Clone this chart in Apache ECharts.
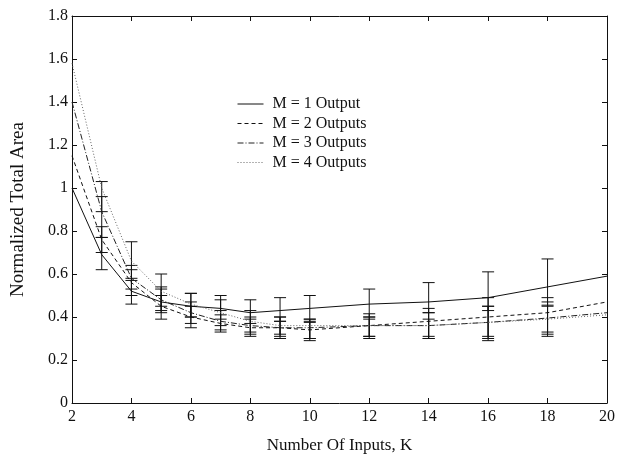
<!DOCTYPE html>
<html>
<head>
<meta charset="utf-8">
<script src="https://cdn.jsdelivr.net/npm/echarts@6/dist/echarts.min.js"></script>
<style>
  html, body { margin: 0; padding: 0; background: #fff; }
  #chart { width: 618px; height: 459px; }
</style>
</head>
<body>
<div id="chart"></div>
<script>
// number of inputs K
const kValues = [2, 3, 4, 5, 6, 7, 8, 9, 10, 12, 14, 16, 18, 20]
// normalized total area, one list per number of outputs
const m1 = [1.0, 0.69, 0.52, 0.47, 0.45, 0.44, 0.42, 0.43, 0.44, 0.46, 0.47, 0.49, 0.54, 0.59]
const m2 = [1.15, 0.76, 0.56, 0.45, 0.40, 0.37, 0.35, 0.35, 0.34, 0.36, 0.38, 0.40, 0.42, 0.47]
const m3 = [1.40, 0.89, 0.58, 0.48, 0.42, 0.38, 0.36, 0.35, 0.35, 0.36, 0.36, 0.375, 0.395, 0.42]
const m4 = [1.58, 1.0, 0.66, 0.52, 0.46, 0.42, 0.38, 0.36, 0.36, 0.36, 0.36, 0.375, 0.39, 0.41]

// error bars (K = 3 .. 18)
const errK = [3, 4, 5, 6, 7, 8, 9, 10, 12, 14, 16, 18]
const m1Low = [0.62, 0.46, 0.43, 0.40, 0.39, 0.37, 0.38, 0.38, 0.40, 0.42, 0.43, 0.45]
const m1High = [0.77, 0.58, 0.53, 0.51, 0.50, 0.48, 0.49, 0.50, 0.53, 0.56, 0.61, 0.67]
const m2Low = [0.70, 0.50, 0.39, 0.35, 0.33, 0.31, 0.30, 0.29, 0.30, 0.30, 0.31, 0.33]
const m2High = [0.82, 0.62, 0.50, 0.45, 0.41, 0.39, 0.40, 0.39, 0.415, 0.44, 0.49, 0.49]
const m3Low = [0.77, 0.53, 0.42, 0.37, 0.34, 0.32, 0.31, 0.30, 0.31, 0.31, 0.29, 0.31]
const m3High = [0.96, 0.64, 0.54, 0.47, 0.43, 0.40, 0.38, 0.375, 0.40, 0.42, 0.45, 0.47]
const m4Low = [0.89, 0.57, 0.45, 0.40, 0.36, 0.33, 0.32, 0.30, 0.31, 0.30, 0.30, 0.32]
const m4High = [1.03, 0.75, 0.60, 0.51, 0.48, 0.43, 0.40, 0.39, 0.39, 0.39, 0.45, 0.455]

const seriesNames = ['M = 1 Output', 'M = 2 Outputs', 'M = 3 Outputs', 'M = 4 Outputs']

const font = 'Liberation Serif'

function pairs (ys) {
  return kValues.map((k, i) => [k, ys[i]])
}

function errData (lows, highs) {
  return errK.map((k, i) => [k, lows[i], highs[i]])
}

// vertical bar with caps at both ends
function renderErr (params, api) {
  const x = api.value(0)
  const lo = api.coord([x, api.value(1)])
  const hi = api.coord([x, api.value(2)])
  const half = 6
  const style = { stroke: '#111', lineWidth: 1, fill: null }
  return {
    type: 'group',
    children: [
      { type: 'line', shape: { x1: lo[0], y1: lo[1], x2: hi[0], y2: hi[1] }, style: style },
      { type: 'line', shape: { x1: lo[0] - half, y1: lo[1], x2: lo[0] + half, y2: lo[1] }, style: style },
      { type: 'line', shape: { x1: hi[0] - half, y1: hi[1], x2: hi[0] + half, y2: hi[1] }, style: style }
    ]
  }
}

const lineStyles = [
  { color: '#111', width: 1, type: 'solid' },
  { color: '#111', width: 1, type: [4, 3] },
  { color: '#222', width: 1, type: [6, 2, 1, 2] },
  { color: '#666', width: 1, type: [1, 2] }
]
const lineData = [m1, m2, m3, m4]
const errLows = [m1Low, m2Low, m3Low, m4Low]
const errHighs = [m1High, m2High, m3High, m4High]

let series = []
lineData.forEach(function (d, i) {
  series.push({
    name: seriesNames[i],
    type: 'line',
    data: pairs(d),
    symbol: 'none',
    lineStyle: lineStyles[i],
    itemStyle: { color: lineStyles[i].color },
    z: 3
  })
})
errLows.forEach(function (lows, i) {
  series.push({
    type: 'custom',
    renderItem: renderErr,
    data: errData(lows, errHighs[i]),
    encode: { x: 0, y: [1, 2] },
    z: 2
  })
})

const axisLine = { show: true, onZero: false, lineStyle: { color: '#111', width: 1 } }
const axisTick = { show: true, inside: true, length: 5, lineStyle: { color: '#111' } }

let myChart = echarts.init(document.getElementById('chart'))
myChart.setOption({
  animation: false,
  backgroundColor: '#fff',
  grid: { left: 72, right: 10, top: 16, bottom: 55 },
  legend: {
    data: seriesNames,
    orient: 'vertical',
    left: 232,
    top: 91,
    itemWidth: 26,
    itemHeight: 14,
    itemGap: 3.5,
    itemStyle: { opacity: 0 },
    lineStyle: { width: 1 },
    textStyle: { color: '#111', fontFamily: font, fontSize: 16, padding: [0, 0, 0, 4] }
  },
  xAxis: [
    {
      type: 'value',
      min: 2,
      max: 20,
      interval: 2,
      name: 'Number Of Inputs, K',
      nameLocation: 'middle',
      nameGap: 34,
      nameTextStyle: { color: '#111', fontFamily: font, fontSize: 17 },
      axisLine: axisLine,
      axisTick: axisTick,
      axisLabel: { margin: 6, color: '#111', fontFamily: font, fontSize: 16 },
      splitLine: { show: false }
    },
    {
      type: 'value',
      position: 'top',
      min: 2,
      max: 20,
      interval: 2,
      axisLine: axisLine,
      axisTick: axisTick,
      axisLabel: { show: false },
      splitLine: { show: false }
    }
  ],
  yAxis: [
    {
      type: 'value',
      min: 0,
      max: 1.8,
      interval: 0.2,
      name: 'Normalized Total Area',
      nameLocation: 'middle',
      nameGap: 44,
      nameTextStyle: { color: '#111', fontFamily: font, fontSize: 19 },
      axisLine: axisLine,
      axisTick: axisTick,
      axisLabel: {
        margin: 4,
        color: '#111',
        fontFamily: font,
        fontSize: 16,
        formatter: v => String(Math.round(v * 10) / 10)
      },
      splitLine: { show: false }
    },
    {
      type: 'value',
      position: 'right',
      min: 0,
      max: 1.8,
      interval: 0.2,
      axisLine: axisLine,
      axisTick: axisTick,
      axisLabel: { show: false },
      splitLine: { show: false }
    }
  ],
  series: series
})
</script>
</body>
</html>
